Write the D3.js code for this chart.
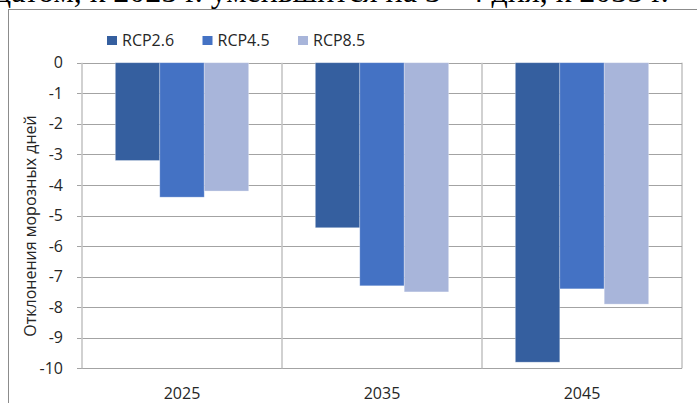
<!DOCTYPE html>
<html>
<head>
<meta charset="utf-8">
<script src="https://cdn.jsdelivr.net/npm/d3@7"></script>
<style>
  body { margin: 0; background: #fff; }
  svg { display: block; }
  text { font-family: "Open Sans", sans-serif; fill: #262626; }
</style>
</head>
<body>
<svg></svg>
<script>
var width = 697;
var height = 403;
var margins = { left: 82, top: 62.7, right: 15, bottom: 34.7 };

// data
var years = ["2025", "2035", "2045"];
var scenarios = ["RCP2.6", "RCP4.5", "RCP8.5"];
var rcp26 = [-3.2, -5.4, -9.8];
var rcp45 = [-4.4, -7.3, -7.4];
var rcp85 = [-4.2, -7.5, -7.9];
var yTicks = [0, -1, -2, -3, -4, -5, -6, -7, -8, -9, -10];
var colors = ["#355f9f", "#4472c4", "#a8b5da"];
var yTitle = "Отклонения морозных дней";
var topLine = "цатом, к 2025 г. уменьшится на 3 - 4 дня, к 2035 г.";

var series = [rcp26, rcp45, rcp85];

var svg = d3.select("svg")
            .attr("width", width)
            .attr("height", height);

// cut-off line of document text above the chart
svg.append("text")
    .attr("x", -6)
    .attr("y", 2)
    .style("font-family", "'Liberation Serif', serif")
    .style("font-size", "32px")
    .style("fill", "#000")
    .text(topLine);

// chart frame (runs off the right and bottom of the picture)
svg.append("rect")
    .attr("x", 8.5).attr("y", 9.5)
    .attr("width", 700).attr("height", 410)
    .attr("fill", "#fff")
    .attr("stroke", "#8c8c8c");

var plotW = width - margins.left - margins.right;

var xscale = d3.scaleBand()
               .domain(years)
               .range([margins.left, margins.left + plotW]);

var xinner = d3.scaleBand()
               .domain(scenarios)
               .range([0, xscale.bandwidth()])
               .paddingInner(0)
               .paddingOuter(0.75);

var yscale = d3.scaleLinear()
               .domain([0, -10])
               .range([margins.top, height - margins.bottom]);

// horizontal gridlines
svg.append("g")
    .selectAll("line")
    .data(yTicks)
    .enter().append("line")
    .attr("x1", margins.left - 5)
    .attr("x2", margins.left + plotW)
    .attr("y1", function(d){ return Math.round(yscale(d)) + 0.5; })
    .attr("y2", function(d){ return Math.round(yscale(d)) + 0.5; })
    .attr("stroke", "#a3a3a3");

// vertical gridlines at category edges
var edges = years.map(function(d){ return xscale(d) + xscale.bandwidth(); });
edges.unshift(margins.left);
svg.append("g")
    .selectAll("line")
    .data(edges)
    .enter().append("line")
    .attr("x1", function(d){ return Math.round(d); })
    .attr("x2", function(d){ return Math.round(d); })
    .attr("y1", yscale(0))
    .attr("y2", yscale(-10))
    .attr("stroke", function(d, i){ return i == edges.length - 1 ? "#a3a3a3" : "#c6c6c6"; })
    .attr("stroke-width", function(d, i){ return i == edges.length - 1 ? 1 : 1.6; });

// bars
var groups = svg.append("g")
    .selectAll("g")
    .data(series)
    .enter().append("g")
    .attr("fill", function(d, i){ return colors[i]; });

groups.selectAll("rect")
    .data(function(d, i){ return d.map(function(v, j){ return { year: years[j], s: scenarios[i], v: v }; }); })
    .enter().append("rect")
    .attr("x", function(d){ return xscale(d.year) + xinner(d.s); })
    .attr("y", yscale(0))
    .attr("width", xinner.bandwidth())
    .attr("height", function(d){ return yscale(d.v) - yscale(0); })
    .attr("stroke", "#ffffff")
    .attr("stroke-opacity", 0.35)
    .attr("stroke-width", 0.8);

// y axis labels (plain hyphen like the original)
var yaxis = d3.axisLeft(yscale)
              .tickValues(yTicks)
              .tickFormat(function(d){ return String(d); })
              .tickSize(0)
              .tickPadding(19);

var gy = svg.append("g")
    .attr("transform", "translate(" + margins.left + ",0)")
    .call(yaxis);
gy.select(".domain").remove();
gy.selectAll("text")
    .style("font-family", "'Open Sans', sans-serif")
    .style("font-size", "16px")
    .style("fill", "#262626");

// x axis labels (placed low)
var xaxis = d3.axisBottom(xscale).tickSize(0).tickPadding(19);
var gx = svg.append("g")
    .attr("transform", "translate(0," + yscale(-10) + ")")
    .call(xaxis);
gx.select(".domain").remove();
gx.selectAll("text")
    .style("font-family", "'Open Sans', sans-serif")
    .style("font-size", "16px")
    .style("fill", "#262626");

// y title
svg.append("text")
    .attr("transform", "translate(36,226) rotate(-90)")
    .attr("text-anchor", "middle")
    .style("font-size", "16px")
    .text(yTitle);

// legend
var legend = svg.append("g")
    .selectAll("g")
    .data(scenarios)
    .enter().append("g")
    .attr("transform", function(d, i){ return "translate(" + (107 + i * 95.5) + ",36)"; });

legend.append("rect")
    .attr("width", 10)
    .attr("height", 9)
    .attr("fill", function(d, i){ return colors[i]; });

legend.append("text")
    .attr("x", 15)
    .attr("y", 10)
    .style("font-size", "16px")
    .text(function(d){ return d; });
</script>
</body>
</html>
